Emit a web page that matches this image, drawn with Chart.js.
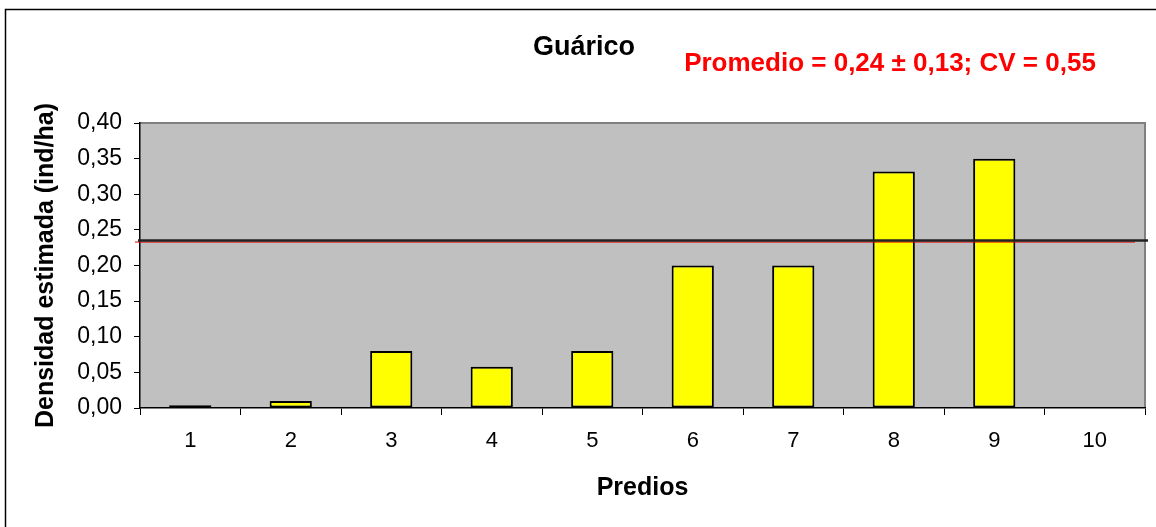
<!DOCTYPE html>
<html>
<head>
<meta charset="utf-8">
<script src="https://cdn.jsdelivr.net/npm/chart.js@4/dist/chart.umd.min.js"></script>
<style>
html,body{margin:0;padding:0;background:#fff;}
#wrap{width:1156px;height:527px;position:relative;}
</style>
</head>
<body>
<div id="wrap"><canvas id="c" width="1156" height="527"></canvas></div>
<script>
const categories = ['1','2','3','4','5','6','7','8','9','10'];
const densidad = [0.004, 0.01, 0.08, 0.058, 0.08, 0.20, 0.20, 0.332, 0.35, 0];
const promedioLinea = 0.235;
const yTicks = [0, 0.05, 0.10, 0.15, 0.20, 0.25, 0.30, 0.35, 0.40];
const titulo = 'Guárico';
const estadistica = 'Promedio = 0,24 ± 0,13; CV = 0,55';
const yTitulo = 'Densidad estimada (ind/ha)';
const xTitulo = 'Predios';

const FONT = '"Liberation Sans", Arial, sans-serif';

const bgPlugin = {
  id: 'bg',
  beforeDraw(chart) {
    const ctx = chart.ctx, a = chart.chartArea;
    ctx.save();
    ctx.fillStyle = '#fff';
    ctx.fillRect(0, 0, chart.width, chart.height);
    ctx.strokeStyle = '#000';
    ctx.lineWidth = 1.5;
    ctx.beginPath();
    ctx.moveTo(5.5, chart.height);
    ctx.lineTo(5.5, 9.5);
    ctx.lineTo(chart.width, 9.5);
    ctx.stroke();
    ctx.fillStyle = '#C0C0C0';
    ctx.fillRect(a.left, a.top, a.right - a.left, a.bottom - a.top);
    ctx.strokeStyle = '#808080';
    ctx.lineWidth = 2;
    ctx.beginPath();
    ctx.moveTo(a.left, a.top);
    ctx.lineTo(a.right, a.top);
    ctx.lineTo(a.right, a.bottom);
    ctx.stroke();
    ctx.restore();
  },
  afterDatasetsDraw(chart) {
    const ctx = chart.ctx, a = chart.chartArea;
    const y = chart.scales.y.getPixelForValue(promedioLinea);
    ctx.save();
    ctx.strokeStyle = '#e00000';
    ctx.lineWidth = 1;
    ctx.beginPath();
    ctx.moveTo(a.left - 5, y + 1.5);
    ctx.lineTo(a.right - 10, y + 1.5);
    ctx.stroke();
    ctx.strokeStyle = '#222';
    ctx.lineWidth = 2.5;
    ctx.beginPath();
    ctx.moveTo(a.left - 2, y);
    ctx.lineTo(a.right + 3, y);
    ctx.stroke();
    ctx.restore();
  },
  afterDraw(chart) {
    const ctx = chart.ctx;
    ctx.save();
    ctx.textBaseline = 'middle';
    ctx.textAlign = 'center';
    ctx.fillStyle = '#000';
    ctx.font = 'bold 27px ' + FONT;
    ctx.fillText(titulo, 584, 48);
    ctx.fillStyle = '#ff0000';
    ctx.font = 'bold 26px ' + FONT;
    ctx.fillText(estadistica, 890, 64);
    ctx.restore();
  }
};

new Chart(document.getElementById('c'), {
  type: 'bar',
  data: {
    labels: categories,
    datasets: [{
      data: densidad,
      backgroundColor: '#FFFF00',
      borderColor: '#000',
      borderWidth: 2,
      borderSkipped: false,
      categoryPercentage: 1,
      barPercentage: 0.42
    }]
  },
  options: {
    responsive: false,
    animation: false,
    devicePixelRatio: 1,
    layout: { padding: { top: 123, right: 11, left: 0, bottom: 0 } },
    plugins: { legend: { display: false }, tooltip: { enabled: false }, title: { display: false } },
    scales: {
      x: {
        offset: true,
        grid: { offset: true, drawOnChartArea: false, color: '#000', tickLength: 7, lineWidth: 1 },
        border: { display: true, color: '#000', width: 1.5 },
        ticks: { color: '#000', font: { family: FONT, size: 22 }, padding: 13, maxRotation: 0 },
        title: { display: true, text: xTitulo, color: '#000', font: { family: FONT, size: 25, weight: 'bold' }, padding: { top: 0, bottom: 24 } },
        afterFit(s) { s.height = 119; }
      },
      y: {
        min: 0, max: 0.4,
        afterBuildTicks(s) { s.ticks = yTicks.map(v => ({ value: v })); },
        grid: { drawOnChartArea: false, color: '#000', tickLength: 6, lineWidth: 1 },
        border: { display: true, color: '#000', width: 1.5 },
        ticks: { color: '#000', font: { family: FONT, size: 23 }, padding: 12,
          callback: v => Number(v).toFixed(2).replace('.', ',') },
        title: { display: true, text: yTitulo, color: '#000', font: { family: FONT, size: 25, weight: 'bold' }, padding: { top: 31, bottom: 0 } },
        afterFit(s) { s.width = 140; }
      }
    }
  },
  plugins: [bgPlugin]
});
</script>
</body>
</html>
